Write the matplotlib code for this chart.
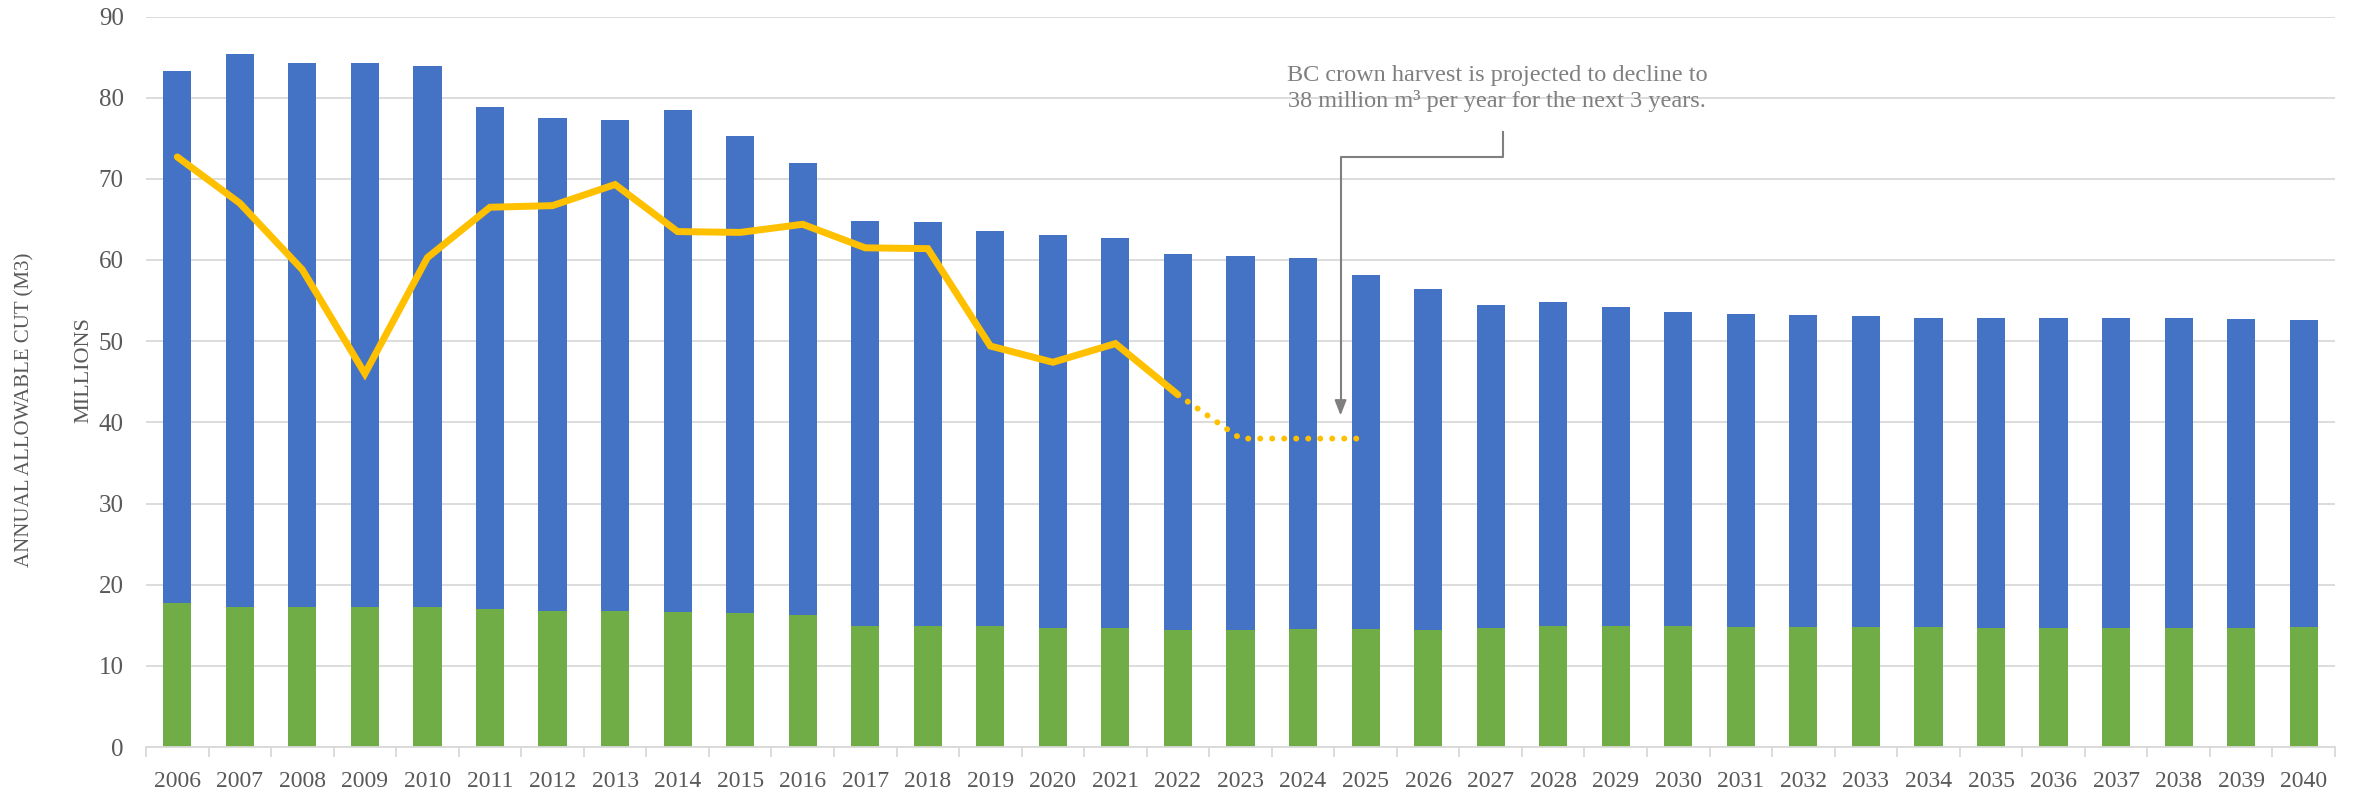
import numpy as np
import matplotlib
matplotlib.use('Agg')
import matplotlib.pyplot as plt

plt.rcParams['font.family'] = ['Liberation Serif', 'DejaVu Serif']

years = [str(y) for y in range(2006, 2041)]

# stacked bar totals (millions m3) and green (lower) part
aac_total = [83.3, 85.4, 84.3, 84.3, 83.9, 78.8, 77.5, 77.2, 78.5, 75.3,
             72.0, 64.8, 64.7, 63.6, 63.1, 62.7, 60.7, 60.5, 60.2, 58.1,
             56.4, 54.5, 54.8, 54.2, 53.6, 53.3, 53.2, 53.1, 52.9, 52.9,
             52.9, 52.8, 52.8, 52.7, 52.6]
aac_green = [17.7, 17.3, 17.25, 17.25, 17.3, 17.05, 16.7, 16.7, 16.65, 16.55,
             16.3, 14.95, 14.85, 14.85, 14.7, 14.6, 14.4, 14.4, 14.5, 14.5,
             14.4, 14.7, 14.95, 14.85, 14.85, 14.8, 14.8, 14.75, 14.75, 14.7,
             14.7, 14.65, 14.65, 14.65, 14.75]

# actual harvest (solid) 2006-2022, projection (dotted) 2022-2025
harvest = [72.7, 67.0, 58.8, 46.0, 60.3, 66.5, 66.7, 69.3, 63.5, 63.4,
           64.4, 61.5, 61.4, 49.4, 47.4, 49.7, 43.4]
projection = [43.4, 38.0, 38.0, 38.0]

BLUE = '#4472C4'
GREEN = '#70AD47'
GOLD = '#FFC000'
GREY_TXT = '#595959'

fig = plt.figure(figsize=(23.56, 7.95), dpi=100)
ax = fig.add_axes([146/2356, 1 - 747/795, (2335 - 146)/2356, (747 - 16.5)/795])

x = np.arange(len(years))
green = np.array(aac_green)
total = np.array(aac_total)
ax.bar(x, green, width=0.45, color=GREEN, zorder=2)
ax.bar(x, total - green, bottom=green, width=0.45, color=BLUE, zorder=2)

ax.plot(x[:len(harvest)], harvest, color=GOLD, lw=5, solid_joinstyle='miter',
        solid_capstyle='round', zorder=3)
px = x[len(harvest) - 1:len(harvest) - 1 + len(projection)]
ax.plot(px, projection, color=GOLD, lw=4.3, linestyle=(0, (0.01, 2.0)),
        dash_capstyle='round', zorder=3)

ax.set_xlim(-0.5, len(years) - 0.5)
ax.set_ylim(0, 90)
ax.set_yticks(range(0, 91, 10))
ax.yaxis.grid(True, color='#D9D9D9', lw=1.3, zorder=0)
ax.set_axisbelow(True)
for s in ['left', 'right', 'top']:
    ax.spines[s].set_visible(False)
ax.spines['bottom'].set_color('#D9D9D9')
ax.spines['bottom'].set_linewidth(1.3)

ax.set_xticks(x)
ax.set_xticklabels(years)
ax.set_xticks(np.arange(-0.5, len(years)), minor=True)
ax.tick_params(axis='x', which='major', length=0, pad=17, labelsize=17,
               labelcolor=GREY_TXT)
ax.tick_params(axis='x', which='minor', length=7, width=1.3, color='#D9D9D9')
ax.tick_params(axis='y', length=0, pad=16, labelsize=18, labelcolor=GREY_TXT)

fig.text(25/2356, 1 - 410/795, 'ANNUAL ALLOWABLE CUT (M3)', rotation=90,
         ha='center', va='center', fontsize=15, color=GREY_TXT)
fig.text(84/2356, 1 - 370/795, 'MILLIONS', rotation=90,
         ha='center', va='center', fontsize=16, color=GREY_TXT)

# annotation with elbow connector
ax.text(21.1, 81.1, 'BC crown harvest is projected to decline to\n'
        '38 million m\u00b3 per year for the next 3 years.',
        ha='center', va='center', fontsize=17.5, color='#7F7F7F',
        linespacing=1.22, zorder=4)
ax.plot([21.2, 21.2, 18.6, 18.6], [75.8, 72.7, 72.7, 42.5],
        color='#7F7F7F', lw=1.5, zorder=4)
ax.annotate('', xy=(18.6, 40.5), xytext=(18.6, 43.0),
            arrowprops=dict(arrowstyle='-|>,head_length=0.9,head_width=0.35',
                            color='#7F7F7F', lw=1.5), zorder=4)

fig.savefig('out.png', dpi=100)
